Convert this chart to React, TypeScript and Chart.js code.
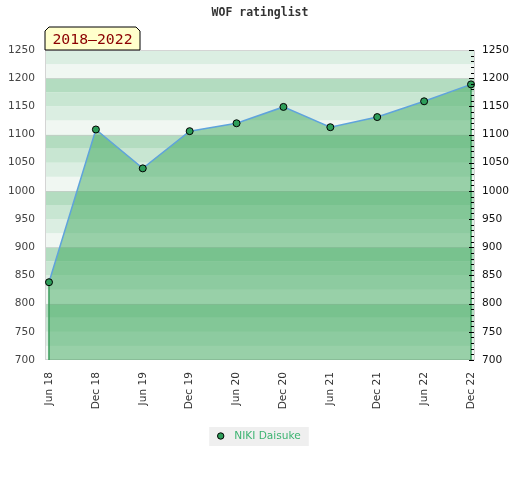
import React, { useEffect, useRef } from 'react';
import { Chart, registerables } from 'chart.js';

Chart.register(...registerables);

const titleText = 'WOF ratinglist';
const periodLabel = '2018–2022';
const seriesName = 'NIKI Daisuke';
const categories = ['Jun 18', 'Dec 18', 'Jun 19', 'Dec 19', 'Jun 20', 'Dec 20', 'Jun 21', 'Dec 21', 'Jun 22', 'Dec 22'];
const ratings = [838, 1109, 1040, 1106, 1120, 1149, 1113, 1131, 1159, 1189];
const yTicks = [700, 750, 800, 850, 900, 950, 1000, 1050, 1100, 1150, 1200, 1250];
const yMin = 700;
const yMax = 1250;
const bandStep = 25;
const minorStep = 10;
const bandColors = ['#f0f7f2', '#dbeee2', '#c8e6d2', '#b3dcc0'];

export default function App() {
  const ref = useRef<HTMLCanvasElement | null>(null);

  useEffect(() => {
    if (!ref.current) return;
    const decor = {
      id: 'decor',
      beforeDraw(chart: any) {
        const { ctx, chartArea: a } = chart;
        const ys = chart.scales.y;
        ctx.save();
        ctx.fillStyle = '#ffffff';
        ctx.fillRect(0, 0, chart.width, chart.height);
        for (let v = yMin; v < yMax; v += bandStep) {
          const idx = Math.round((v % 100) / bandStep) % 4;
          const top = ys.getPixelForValue(v + bandStep);
          const bot = ys.getPixelForValue(v);
          ctx.fillStyle = bandColors[idx];
          ctx.fillRect(a.left, top, a.right - a.left, bot - top);
        }
        ctx.strokeStyle = 'rgba(200,200,200,0.6)';
        ctx.lineWidth = 1;
        for (let v = yMin + 100; v < yMax; v += 100) {
          const p = Math.round(ys.getPixelForValue(v)) + 0.5;
          ctx.beginPath();
          ctx.moveTo(a.left, p);
          ctx.lineTo(a.right, p);
          ctx.stroke();
        }
        ctx.strokeStyle = '#d4d4d4';
        ctx.strokeRect(a.left + 0.5, a.top + 0.5, a.right - a.left - 1, a.bottom - a.top - 1);
        ctx.restore();
      },
      beforeDatasetDraw(chart: any) {
        const { ctx, chartArea: a } = chart;
        const meta = chart.getDatasetMeta(0);
        const pts = meta.data;
        if (!pts.length) return;
        ctx.save();
        ctx.strokeStyle = '#3c9c5c';
        ctx.lineWidth = 1.5;
        [pts[0], pts[pts.length - 1]].forEach((p: any) => {
          ctx.beginPath();
          ctx.moveTo(p.x, p.y);
          ctx.lineTo(p.x, a.bottom);
          ctx.stroke();
        });
        ctx.restore();
      },
      afterDraw(chart: any) {
        const { ctx, chartArea: a } = chart;
        const ys = chart.scales.y2;
        ctx.save();
        // minor / major ticks on right axis
        ctx.strokeStyle = '#000';
        ctx.lineWidth = 1;
        for (let v = yMin; v <= yMax; v += minorStep) {
          const p = Math.round(ys.getPixelForValue(v)) + 0.5;
          const major = v % 50 === 0;
          ctx.beginPath();
          ctx.moveTo(a.right - (major ? 6 : 4), p);
          ctx.lineTo(a.right - 1, p);
          ctx.stroke();
        }
        // title
        ctx.fillStyle = '#333';
        ctx.font = 'bold 11.5px "DejaVu Sans Mono"';
        ctx.textAlign = 'center';
        ctx.textBaseline = 'middle';
        ctx.fillText(titleText, 260, 13);
        // period box
        const bx = a.left, by = 27, bw = 95, bh = 23, c = 4;
        ctx.beginPath();
        ctx.moveTo(bx, by + bh);
        ctx.lineTo(bx, by + c);
        ctx.lineTo(bx + c, by);
        ctx.lineTo(bx + bw - c, by);
        ctx.lineTo(bx + bw, by + c);
        ctx.lineTo(bx + bw, by + bh);
        ctx.closePath();
        ctx.fillStyle = '#ffffcc';
        ctx.fill();
        ctx.strokeStyle = '#000';
        ctx.lineWidth = 1;
        ctx.stroke();
        ctx.fillStyle = '#8b0000';
        ctx.font = '14.8px "DejaVu Sans Mono"';
        ctx.textAlign = 'center';
        ctx.textBaseline = 'middle';
        ctx.fillText(periodLabel, bx + bw / 2, by + 13);
        // legend
        ctx.font = '10.6px "DejaVu Sans"';
        ctx.textAlign = 'left';
        const tw = ctx.measureText(seriesName).width;
        const lw = tw + 33;
        const lx = 260 - lw / 2 - 1, ly = 427;
        ctx.fillStyle = '#efefef';
        ctx.fillRect(lx, ly, lw, 19);
        ctx.beginPath();
        ctx.arc(lx + 11.5, ly + 9, 3.2, 0, Math.PI * 2);
        ctx.fillStyle = '#2e9e5a';
        ctx.fill();
        ctx.strokeStyle = '#000';
        ctx.stroke();
        ctx.fillStyle = '#3cb371';
        ctx.textBaseline = 'middle';
        ctx.fillText(seriesName, lx + 25, ly + 9.5);
        ctx.restore();
      },
    };

    const yTickOpts = (color: string, padding: number) => ({
      padding,
      color,
      font: { family: 'DejaVu Sans', size: 10.6 },
      callback: (v: any) => String(v),
    });

    const chart = new Chart(ref.current, {
      type: 'line',
      data: {
        datasets: [
          {
            label: seriesName,
            data: ratings.map((v, i) => ({ x: i, y: v })),
            borderColor: '#5fa3dc',
            borderWidth: 1.5,
            backgroundColor: 'rgba(55,165,86,0.475)',
            fill: 'start',
            tension: 0,
            pointRadius: 3.5,
            pointBackgroundColor: '#2e9e5a',
            pointBorderColor: '#000',
            pointBorderWidth: 1,
          },
        ],
      },
      options: {
        animation: false,
        responsive: false,
        devicePixelRatio: 1,
        layout: { padding: { top: 50, left: 0, right: 0, bottom: 0 } },
        plugins: { legend: { display: false }, title: { display: false }, tooltip: { enabled: false } },
        scales: {
          x: {
            type: 'linear',
            min: -0.085,
            max: categories.length - 1 + 0.085,
            afterBuildTicks: (s: any) => {
              s.ticks = categories.map((_, i) => ({ value: i }));
            },
            afterFit: (s: any) => {
              s.height = 120;
            },
            grid: { display: false, drawTicks: false },
            border: { display: false },
            ticks: {
              autoSkip: false,
              maxRotation: 90,
              minRotation: 90,
              padding: 12,
              color: '#333',
              font: { family: 'DejaVu Sans', size: 10.6 },
              callback: (v: any) => categories[Math.round(v)] ?? '',
            },
          },
          y: {
            position: 'left',
            min: yMin,
            max: yMax,
            afterBuildTicks: (s: any) => {
              s.ticks = yTicks.map((v) => ({ value: v }));
            },
            afterFit: (s: any) => {
              s.width = 45;
            },
            grid: { display: false, drawTicks: false },
            border: { display: false },
            ticks: yTickOpts('#444', 10),
          },
          y2: {
            position: 'right',
            min: yMin,
            max: yMax,
            afterBuildTicks: (s: any) => {
              s.ticks = yTicks.map((v) => ({ value: v }));
            },
            afterFit: (s: any) => {
              s.width = 45;
            },
            grid: { display: false, drawTicks: false },
            border: { display: false },
            ticks: yTickOpts('#111', 7),
          },
        },
      },
      plugins: [decor],
    } as any);
    return () => chart.destroy();
  }, []);

  return (
    <div style={{ position: 'absolute', left: 0, top: 0, width: 520, height: 480 }}>
      <canvas ref={ref} width={520} height={480} style={{ width: 520, height: 480, display: 'block' }} />
    </div>
  );
}
